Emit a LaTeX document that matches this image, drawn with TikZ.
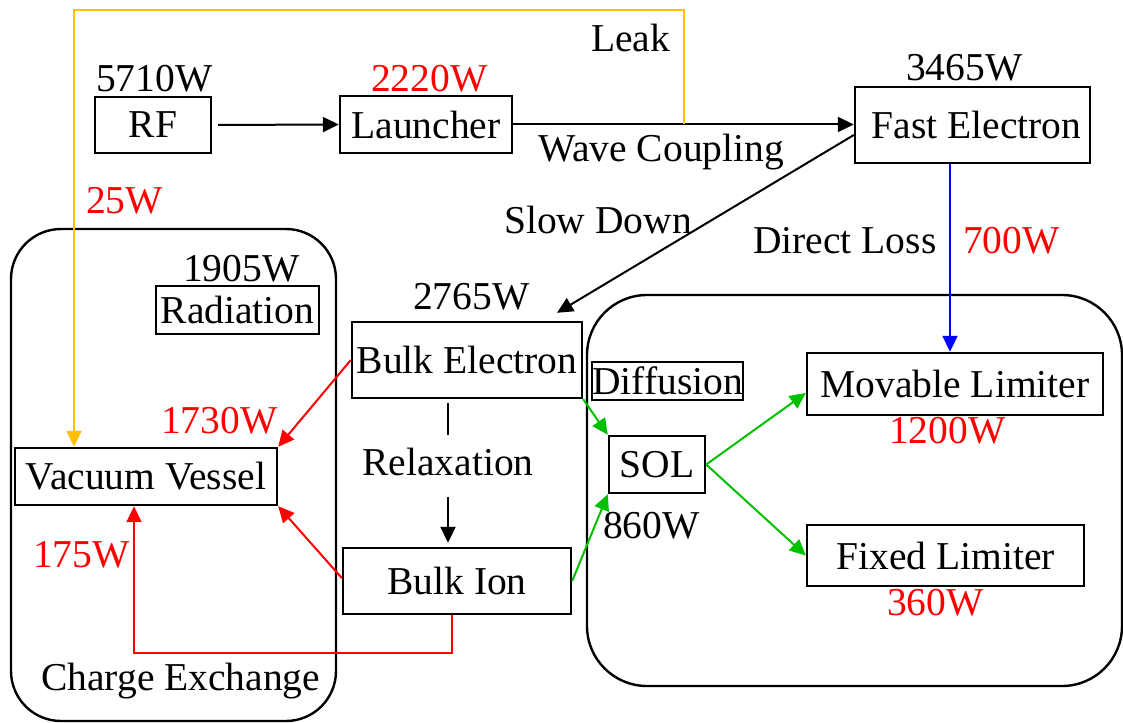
\documentclass[tikz,border=0pt]{standalone}
\usepackage{fontspec}
\setmainfont{Liberation Serif}
\usetikzlibrary{arrows.meta}
\definecolor{leakyellow}{RGB}{255,192,0}
\definecolor{difgreen}{RGB}{0,192,0}

\begin{document}
\begin{tikzpicture}[
  x=1pt, y=-1pt,
  every node/.style={font=\fontsize{39.5}{44}\selectfont, inner sep=0pt},
  block/.style={rectangle, draw=black, line width=2.4pt},
  region/.style={draw=black, line width=2.4pt},
  txt/.style={anchor=base west},
  watt/.style={anchor=base west, text=red},
  link/.style={line width=2pt},
  flow/.style={link, -{Triangle[length=16pt,width=15pt]}},
  leakflow/.style={flow, draw=leakyellow},
  lossflow/.style={flow, draw=blue},
  heatflow/.style={flow, draw=red},
  difflow/.style={flow, draw=difgreen}
]
  \useasboundingbox (0,0) rectangle (1123,722);

  \draw[region, rounded corners=50pt] (11,229) rectangle (336,721);
  \draw[region, rounded corners=60pt] (587,295) rectangle (1122,686);

  \node[block, minimum width=116pt, minimum height=56pt] (rf) at (153,125) {RF};
  \node[block, minimum width=172pt, minimum height=57pt] (launch) at (426,124.5) {Launcher};
  \node[block, minimum width=235pt, minimum height=76pt] (fast) at (972.5,125) {\hspace{8pt}Fast Electron};
  \node[block, minimum width=163pt, minimum height=48pt] (rad) at (237.5,310) {Radiation};
  \node[block, minimum width=230pt, minimum height=76pt] (bulke) at (467,360) {Bulk Electron};
  \node[block, minimum width=262pt, minimum height=57pt] (vv) at (146,476.5) {Vacuum Vessel};
  \node[block, minimum width=228pt, minimum height=66pt] (bulki) at (457,581) {Bulk Ion};
  \node[block, minimum width=151pt, minimum height=38pt] (diff) at (667.5,381) {Diffusion};
  \node[block, minimum width=96pt, minimum height=57pt] (sol) at (657,464.5) {SOL};
  \node[block, minimum width=296pt, minimum height=62pt] (ml) at (955,384) {Movable Limiter};
  \node[block, minimum width=277pt, minimum height=61pt] (fl) at (945.5,555.5) {Fixed Limiter};

  \node[txt] (prf) at (96,92) {5710W};
  \node[watt] (plaunch) at (371,92) {2220W};
  \node[txt] (leaktxt) at (591,52) {Leak};
  \node[txt] (pfast) at (906,81) {3465W};
  \node[txt] (wavetxt) at (538,162) {Wave Coupling};
  \node[watt] (pleak) at (86,213) {25W};
  \node[txt] (slowtxt) at (504,233) {Slow Down};
  \node[txt] (losstxt) at (753,253) {Direct Loss};
  \node[watt] (ploss) at (963,253) {700W};
  \node[txt] (prad) at (183,281) {1905W};
  \node[txt] (pbulke) at (413,309) {2765W};
  \node[watt] (pbrem) at (161,433) {1730W};
  \node[anchor=base] (relax) at (448,475) {Relaxation};
  \node[watt] (pml) at (889,443) {1200W};
  \node[watt] (pcx) at (33,567) {175W};
  \node[txt] (psol) at (603,538) {860W};
  \node[watt] (pfl) at (887,615) {360W};
  \node[txt] (cxtxt) at (41,690) {Charge Exchange};

  \coordinate (leak) at (684,124.5);
  \coordinate (leaktop) at (74,10);
  \coordinate (cx) at (134,653);

  \draw[flow, shorten <=6pt] (rf.east) -- (launch.west);
  \draw[flow] (launch.east) -- (launch.east -| fast.west);
  \draw[leakflow] (leak) |- (leaktop) -- (leaktop |- vv.north);
  \draw[flow] ([yshift=-10pt]fast.west) -- ([xshift=90pt,yshift=8pt]bulke.north);
  \draw[lossflow] ([xshift=-5pt]ml.north |- fast.south) -- ([xshift=-5pt]ml.north);
  \draw[heatflow] (bulke.west) -- (vv.north east);
  \draw[heatflow] ([yshift=3pt]bulki.west) -- (vv.south east);
  \draw[heatflow] ([xshift=-5pt]bulki.south) |- (cx) -- (cx |- vv.south);
  \draw[link, shorten <=4pt] (relax.north |- bulke.south) -- ([yshift=12pt]relax.north);
  \draw[flow, shorten >=4pt] ([yshift=-21pt]relax.south) -- (relax.south |- bulki.north);
  \draw[difflow] (bulke.south east) -- (sol.north west);
  \draw[difflow] (bulki.east) -- (sol.south west);
  \draw[difflow] (sol.east) -- ([yshift=-9pt]ml.west);
  \draw[difflow] (sol.east) -- (fl.west);
\end{tikzpicture}
\end{document}
